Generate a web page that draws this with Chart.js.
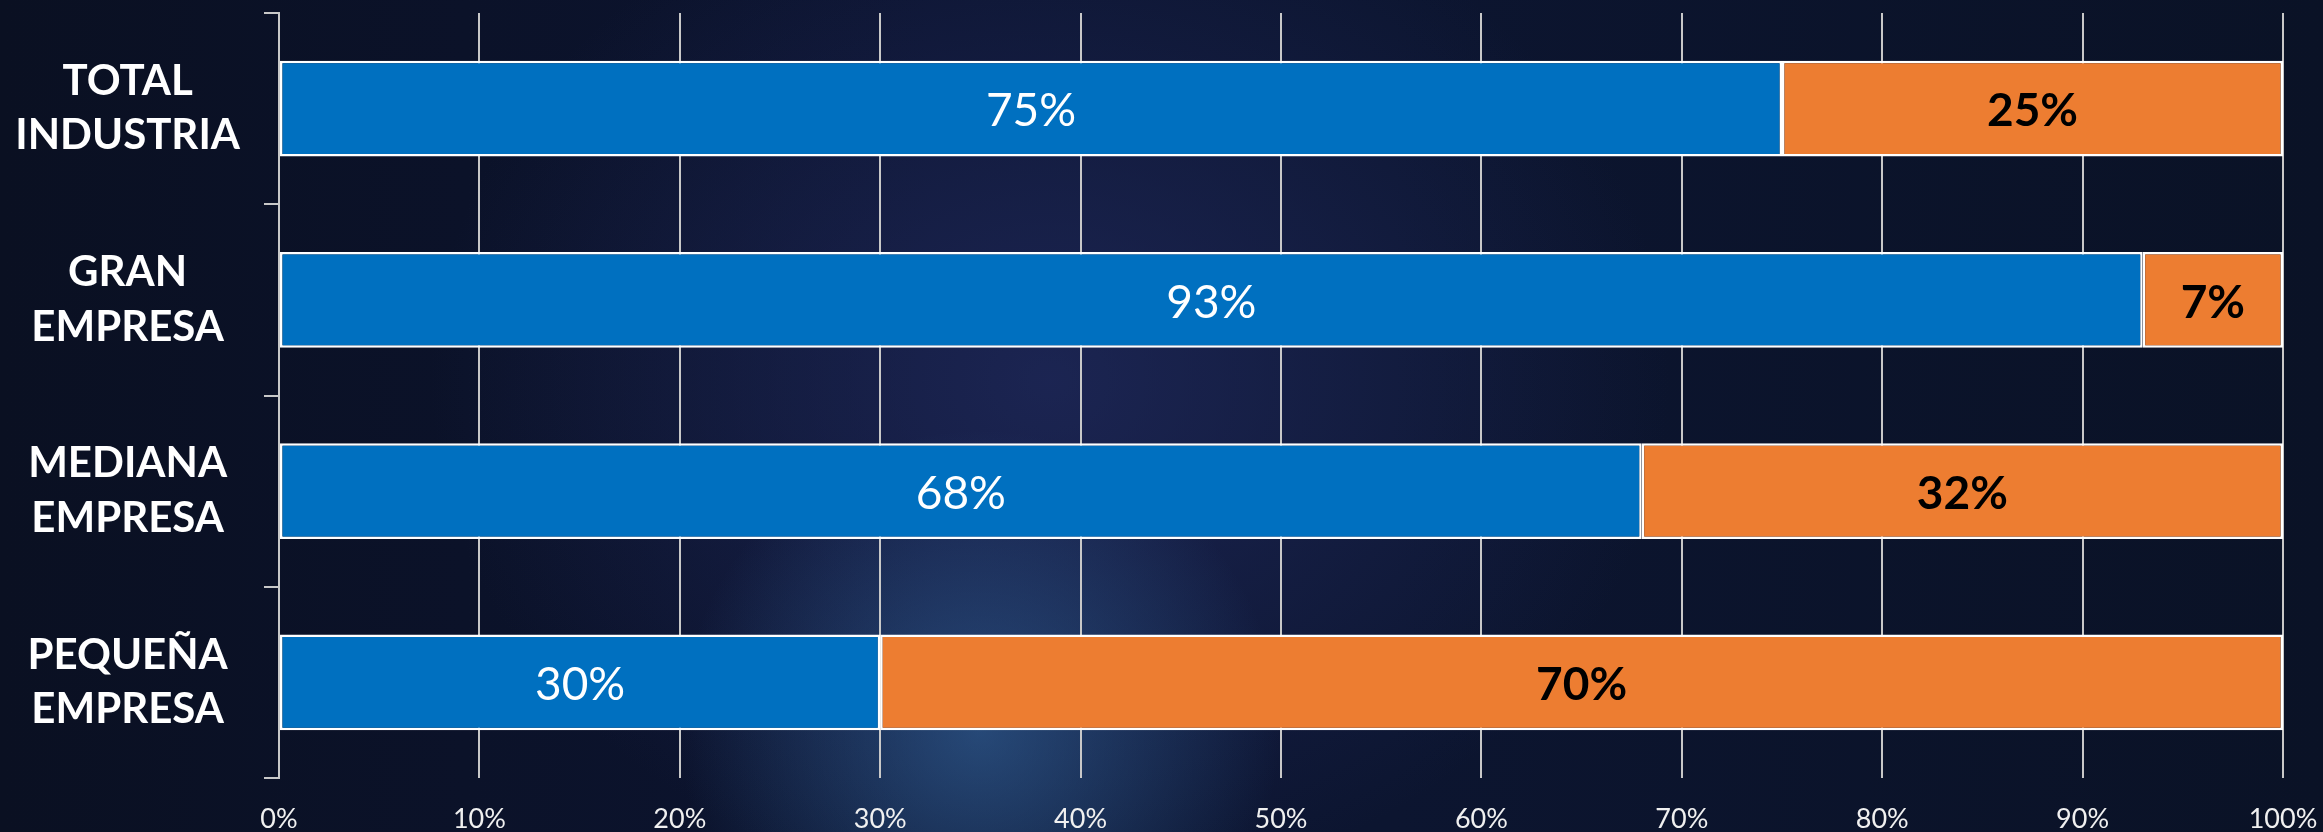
<!DOCTYPE html>
<html>
<head>
<meta charset="utf-8">
<script src="https://cdn.jsdelivr.net/npm/chart.js@4/dist/chart.umd.min.js"></script>
<style>
  html, body { margin: 0; padding: 0; }
  body {
    width: 2323px; height: 832px; overflow: hidden;
    background:
      radial-gradient(ellipse 300px 300px at 980px 730px, rgba(60,120,180,0.5), rgba(60,120,180,0) 100%),
      radial-gradient(ellipse 620px 520px at 1050px 380px, rgba(40,50,110,0.55), rgba(30,40,90,0) 100%),
      linear-gradient(90deg, #0a1022 0%, #0c1430 40%, #0c1530 60%, #0a1226 100%);
  }
  canvas { display: block; }
</style>
</head>
<body>
<canvas id="chart" width="2323" height="832"></canvas>
<script>
const categories = [
    ["TOTAL", "INDUSTRIA"],
    ["GRAN", "EMPRESA"],
    ["MEDIANA", "EMPRESA"],
    ["PEQUEÑA", "EMPRESA"]
];
const blueValues = [75, 93, 68, 30];
const orangeValues = [25, 7, 32, 70];
const xTicks = [0, 10, 20, 30, 40, 50, 60, 70, 80, 90, 100];

const FONT = "Lato, 'Open Sans', sans-serif";

// draws the % labels in the middle of every segment
const barLabels = {
    id: "barLabels",
    afterDatasetsDraw(chart) {
        const ctx = chart.ctx;
        ctx.save();
        ctx.textAlign = "center";
        ctx.textBaseline = "middle";
        chart.data.datasets.forEach((ds, i) => {
            const meta = chart.getDatasetMeta(i);
            ctx.fillStyle = ds.labelColor;
            ctx.font = ds.labelFont;
            meta.data.forEach((bar, j) => {
                const p = bar.getCenterPoint();
                ctx.fillText(ds.data[j] + "%", p.x, p.y + 3);
            });
        });
        ctx.restore();
    }
};

const ctx = document.getElementById("chart").getContext("2d");

new Chart(ctx, {
    type: "bar",
    data: {
        labels: categories,
        datasets: [{
            data: blueValues,
            backgroundColor: "#0070C0",
            borderColor: "#ffffff",
            borderWidth: 2.5,
            borderSkipped: false,
            labelColor: "#ffffff",
            labelFont: "400 46px " + FONT
        }, {
            data: orangeValues,
            backgroundColor: "#ED7D31",
            borderColor: "#ffffff",
            borderWidth: 2.5,
            borderSkipped: false,
            labelColor: "#000000",
            labelFont: "700 46px " + FONT
        }]
    },
    options: {
        indexAxis: "y",
        responsive: false,
        animation: false,
        devicePixelRatio: 1,
        layout: { padding: { top: 13, right: 40, left: 0, bottom: 0 } },
        datasets: { bar: { categoryPercentage: 1, barPercentage: 0.5 } },
        plugins: { legend: { display: false }, tooltip: { enabled: false } },
        scales: {
            x: {
                stacked: true,
                min: 0,
                max: 100,
                afterBuildTicks: s => { s.ticks = xTicks.map(v => ({ value: v })); },
                afterFit: s => {
                    s.height = 54;
                    s.paddingLeft = 0;
                    s.paddingRight = 0;
                },
                grid: { color: "#c8c8c8", lineWidth: 2, drawTicks: false },
                border: { display: false },
                ticks: {
                    color: "#f0f0f0",
                    padding: 25,
                    font: { family: FONT, size: 27 },
                    callback: v => v + "%"
                }
            },
            y: {
                stacked: true,
                afterFit: s => {
                    s.width = 279;
                    s.paddingTop = 0;
                    s.paddingBottom = 0;
                },
                grid: { display: true, drawOnChartArea: false, drawTicks: true, tickLength: 15, color: "#c8c8c8", lineWidth: 2, offset: true },
                border: { display: true, color: "#c8c8c8", width: 2 },
                ticks: {
                    color: "#ffffff",
                    crossAlign: "center",
                    padding: 24,
                    font: { family: FONT, size: 42, weight: "bold", lineHeight: 1.3 }
                }
            }
        }
    },
    plugins: [barLabels]
});
</script>
</body>
</html>
